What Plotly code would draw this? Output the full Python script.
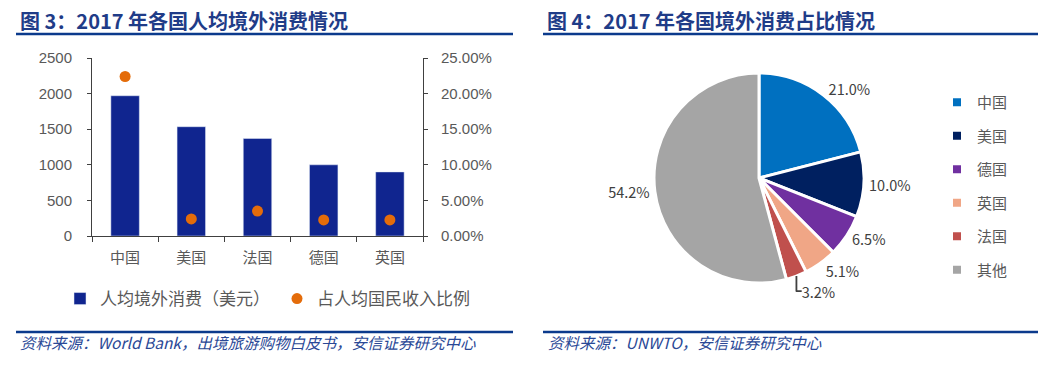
import plotly.graph_objects as go

# ---- data ----
countries = ["中国", "美国", "法国", "德国", "英国"]
spend_usd = [1970, 1535, 1370, 1000, 900]
income_ratio = [0.224, 0.024, 0.035, 0.0225, 0.0225]

pie_labels = ["中国", "美国", "德国", "英国", "法国", "其他"]
pie_values = [21.0, 10.0, 6.5, 5.1, 3.2, 54.2]
pie_colors = ["#0070C0", "#002060", "#7030A0", "#F0A686", "#C0504D", "#A5A5A5"]

left_title = "图 3：2017 年各国人均境外消费情况"
right_title = "图 4：2017 年各国境外消费占比情况"
left_source = "资料来源：World Bank，出境旅游购物白皮书，安信证券研究中心"
right_source = "资料来源：UNWTO，安信证券研究中心"

W, H = 1064, 390
FONT = "Noto Sans CJK SC"
GRAY = "#595959"
NAVY = "#1F3C88"

fig = go.Figure()

fig.add_trace(go.Bar(
    x=countries, y=spend_usd, name="人均境外消费（美元）",
    marker=dict(color="#10258F"), width=0.43,
    xaxis="x", yaxis="y", legend="legend",
))
fig.add_trace(go.Scatter(
    x=countries, y=income_ratio, name="占人均国民收入比例", mode="markers",
    marker=dict(color="#E46C0A", size=11),
    xaxis="x", yaxis="y2", legend="legend",
))

fig.add_trace(go.Pie(
    labels=pie_labels, values=pie_values, sort=False, direction="clockwise",
    rotation=0, marker=dict(colors=pie_colors, line=dict(color="white", width=3)),
    texttemplate="%{value:.1f}%", textposition="outside",
    textfont=dict(family=FONT, size=14.5, color="#404040"),
    domain=dict(x=[654 / W, 864 / W], y=[(H - 283) / H, (H - 73) / H]),
    showlegend=False, hoverinfo="label+value",
))

# legend entries for the pie slices
for lab, col in zip(pie_labels, pie_colors):
    fig.add_trace(go.Scatter(
        x=[None], y=[None], mode="markers", name=lab,
        marker=dict(symbol="square", size=8, color=col),
        legend="legend2", legendgroup=lab, xaxis="x", yaxis="y",
    ))

axis_line = "#404040"
fig.update_layout(
    width=W, height=H, margin=dict(l=0, r=0, t=0, b=0, autoexpand=False),
    paper_bgcolor="white", plot_bgcolor="white",
    font=dict(family=FONT, color=GRAY, size=15),
    xaxis=dict(
        domain=[92 / W, 423 / W], anchor="y", showline=True, linecolor=axis_line,
        linewidth=1, ticks="outside", tickson="boundaries", ticklen=5,
        tickcolor=axis_line, showgrid=False, ticklabelstandoff=8, automargin=False,
        tickfont=dict(size=15, color=GRAY),
    ),
    yaxis=dict(
        domain=[(H - 236) / H, (H - 58) / H], range=[0, 2500], dtick=500,
        showline=True, linecolor=axis_line, ticks="outside", ticklen=4,
        tickcolor=axis_line, showgrid=False, zeroline=False, automargin=False,
        ticklabelstandoff=12, tickfont=dict(family="Liberation Sans", size=15, color=GRAY),
    ),
    yaxis2=dict(
        overlaying="y", anchor="x", side="right", range=[0, 0.25], dtick=0.05,
        tickformat=".2%", showline=True, linecolor=axis_line, ticks="outside",
        ticklen=4, tickcolor=axis_line, showgrid=False, zeroline=False, automargin=False,
        ticklabelstandoff=10, tickfont=dict(family="Liberation Sans", size=15, color=GRAY),
    ),
    legend=dict(
        orientation="h", x=60 / W, xanchor="left", y=(H - 299) / H, yanchor="middle",
        font=dict(size=17, color=GRAY), entrywidth=172, entrywidthmode="pixels",
        bgcolor="rgba(0,0,0,0)",
    ),
    legend2=dict(
        orientation="v", x=937 / W, xanchor="left", y=(H - 86) / H, yanchor="top",
        font=dict(size=15, color=GRAY), tracegroupgap=11, bgcolor="rgba(0,0,0,0)",
    ),
    showlegend=True,
)

shapes = []
for x0, x1 in [(16, 513), (543, 1038)]:
    for yy in (34, 332):
        shapes.append(dict(type="line", xref="paper", yref="paper",
                           x0=x0 / W, x1=x1 / W, y0=(H - yy) / H, y1=(H - yy) / H,
                           line=dict(color="#0B3A8C", width=2.5)))
fig.update_layout(shapes=shapes)

ann = []
for xx, txt in [(18, left_title), (545, right_title)]:
    ann.append(dict(text="<b>" + txt + "</b>", xref="paper", yref="paper",
                    x=xx / W, y=(H - 20) / H, xanchor="left", yanchor="middle",
                    showarrow=False, font=dict(family=FONT, size=20, color=NAVY)))
for xx, txt in [(18, left_source), (546, right_source)]:
    ann.append(dict(text="<i>" + txt + "</i>", xref="paper", yref="paper",
                    x=xx / W, y=(H - 342) / H, xanchor="left", yanchor="middle",
                    showarrow=False, font=dict(family=FONT, size=15.5, color="#2A4896")))
fig.update_layout(annotations=ann)

fig.write_html("out.html", config={"displayModeBar": False},
               post_script="document.body.style.margin='0px';")
